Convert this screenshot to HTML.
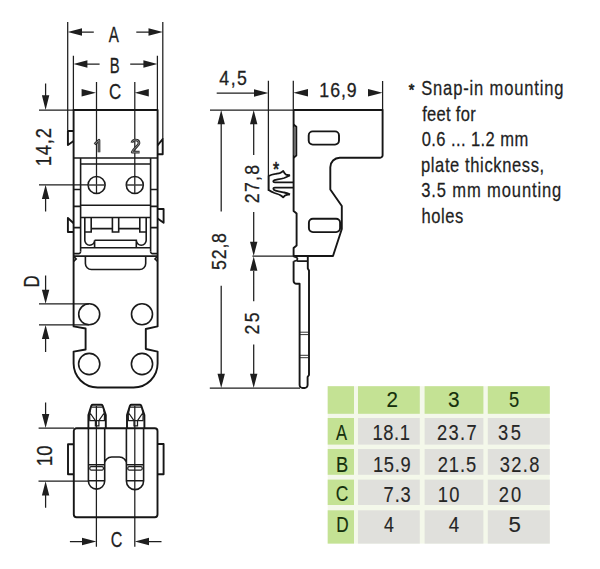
<!DOCTYPE html>
<html><head><meta charset="utf-8">
<style>
html,body{margin:0;padding:0;background:#fff;width:600px;height:569px;overflow:hidden}
svg{display:block}
text{font-family:"Liberation Sans",sans-serif}
.k{stroke:#161616;fill:none;stroke-width:1.9;stroke-linejoin:round}
.t{stroke:#1e1e1e;fill:none;stroke-width:1.25}
.m{stroke:#1a1a1a;fill:none;stroke-width:1.6}
.ah{fill:#1e1e1e;stroke:none}
</style></head>
<body>
<svg width="600" height="569" viewBox="0 0 600 569">
<!-- ============ LEFT TOP VIEW ============ -->
<g id="dimsTop">
  <!-- A -->
  <path class="t" d="M67.7 22V130.5M162.8 22V139M81 32H93.8M136.3 32H149"/>
  <path class="ah" d="M67.7 32L82 28.3V35.7ZM162.8 32L148.5 28.3V35.7Z"/>
  <!-- B -->
  <path class="t" d="M73.4 55.7V110M157.4 55.7V110M86.5 64H99.6M130.2 64H144"/>
  <path class="ah" d="M73.4 64L87.4 60.3V67.7ZM157.4 64L143.4 60.3V67.7Z"/>
  <!-- C -->
  <path class="t" d="M96.5 82V193.6M134.8 82V193.6"/>
  <path class="ah" d="M96 92.7L81.6 89V96.4ZM134.7 92.7L148.8 89V96.4Z"/>
  <!-- 14,2 -->
  <path class="t" d="M45.6 83.4V96M39 110.1H73.4M39 184.8H88M45.6 198V211.4"/>
  <path class="ah" d="M45.6 110L41.9 95.3H49.3ZM45.6 184.8L41.9 199H49.3Z"/>
  <!-- D -->
  <path class="t" d="M45.6 275.6V290M39 303.8H89M39 324.9H89M45.6 338V352"/>
  <path class="ah" d="M45.6 303.8L41.9 289.7H49.3ZM45.6 324.9L41.9 339H49.3Z"/>
</g>
<g id="textTop">
</g>
<g id="bodyTop">
  <!-- outer outline -->
  <path class="k" d="M73.6 110H157.6V326.4L145.8 329V349L157.6 351.6V363.5A24 24 0 0 1 133.6 387.5H97.6A24 24 0 0 1 73.6 363.5V351.6L85.6 349.5V328.5L73.6 326.4Z"/>
  <!-- clips -->
  <path class="k" d="M73.6 131H67.9V145L73.6 141"/>
  <path class="k" d="M157.6 145.3L162.7 139V154.3H157.6"/>
  <path class="k" d="M73.6 223.2L67.9 218V232H73.6"/>
  <path class="k" d="M157.6 209H163.6V222.8L157.6 218.5"/>
  <!-- inner -->
  <path class="m" d="M73.6 158H157.6M80.6 164H150.6M80.6 158V251.5M150.6 158V251.5"/>
  <path class="m" d="M73.6 189.5H80.6M73.6 206.4H80.6M73.6 227.6H80.6M150.6 189.5H157.6M150.6 206.4H157.6M150.6 227.6H157.6"/>
  <path class="m" d="M80.6 205.3H150.6M80.6 217.5H150.6M80.6 251.5A2 2 0 0 1 78.6 253.6H73.6M150.6 251.5A2 2 0 0 0 152.6 253.6H157.6M73.6 256.1H157.6M80.6 247.7H150.6"/>
  <!-- posts -->
  <path class="m" d="M91.2 217.5V232H84.8V240.3A4.9 4.9 0 0 0 94.6 240.3V247.7M94.6 240.3H136.3V247.7M136.3 240.3A4.9 4.9 0 0 0 146.2 240.3V232H139.8V217.5M91.2 228.6H112.4M118.7 228.6H139.8M112.4 217.5V232H118.7V217.5M84.8 217.5V232M146.2 217.5V232"/>
  <path class="m" d="M73.6 256.3L76.2 258.9L73.6 261.5M157.6 256.3L155 258.9L157.6 261.5"/>
  <!-- tab -->
  <path class="m" d="M85.4 256.1V263.5A6 6 0 0 0 91.4 269.5H139.7A6 6 0 0 0 145.7 263.5V256.1"/>
  <!-- circles -->
  <circle class="m" cx="96.6" cy="185" r="8.5"/>
  <circle class="m" cx="134.8" cy="185" r="8.5"/>
  <circle class="m" cx="89.2" cy="314.3" r="10.5"/>
  <circle class="m" cx="142" cy="314.3" r="10.5"/>
  <circle class="m" cx="89.2" cy="364" r="10.6"/>
  <circle class="m" cx="142" cy="364" r="10.6"/>
  <path style="stroke-width:1.5;stroke:#3a3a3a" class="t" d="M88 185H105M126.3 185H143.3"/>
</g>

<g id="pinnums">
  <path d="M94.6 144.2L99 140.2V152.3M131.9 142.8C132.3 140.6 134 140 135.5 140C137.5 140 139 141.2 139 143C139 145.5 133.5 148.5 132.2 152.2H139.6" fill="none" stroke="#2e2e2e" stroke-width="2.7" stroke-linejoin="round"/>
  <path d="M94.6 144.2L99 140.2V152.3M131.9 142.8C132.3 140.6 134 140 135.5 140C137.5 140 139 141.2 139 143C139 145.5 133.5 148.5 132.2 152.2H139.6" fill="none" stroke="#9a9a9a" stroke-width="0.8" stroke-linejoin="round"/>
</g>
<!-- ============ LEFT BOTTOM VIEW ============ -->
<g id="dimsBot">
  <path class="t" d="M45.6 402.4V415M38.6 428.2H74M38.5 481.2H88M45.6 494V507.7"/>
  <path class="ah" d="M45.6 428L41.9 414H49.3ZM45.6 481.2L41.9 495.4H49.3Z"/>
  <path class="t" d="M96.4 406V546.7M134.8 406V546.7M69.9 541.5H82M149 541.5H161.5"/>
  <path class="ah" d="M96.4 541.5L82 537.8V545.2ZM134.8 541.5L149 537.8V545.2Z"/>
</g>
<g id="bodyBot">
  <path class="k" d="M73.8 431A2.7 2.7 0 0 1 76.5 428.3H154.8A2.7 2.7 0 0 1 157.5 431V514.5A2.7 2.7 0 0 1 154.8 517.2H76.5A2.7 2.7 0 0 1 73.8 514.5Z"/>
  <path class="k" d="M73.8 444.2H68V474.3H73.8M157.5 444H163.6V474.3H157.5"/>
  <path class="k" d="M88.4 428.5V415L91.4 405.6Q91.8 404.8 92.8 404.8H101.2Q102.2 404.8 102.6 405.6L105.8 415V428.5"/><path class="t" d="M91.5 407.2H102.5M90.6 409C89.6 413 89.4 417 89.8 420.6H104.4C104.8 417 104.6 413 103.6 409M90.4 413.5L95.4 420.6M103.8 413.5L98.9 420.6M95.4 420.6V425.8H98.9V420.6"/>
  <path class="k" d="M127.0 428.5V415L130.0 405.6Q130.4 404.8 131.4 404.8H139.8Q140.8 404.8 141.2 405.6L144.4 415V428.5"/><path class="t" d="M130.1 407.2H141.1M129.2 409C128.2 413 128.0 417 128.4 420.6H143.0C143.4 417 143.2 413 142.2 409M129.0 413.5L134.0 420.6M142.4 413.5L137.5 420.6M134.0 420.6V425.8H137.5V420.6"/>
  <path class="m" d="M88.4 428.2V481A8.15 8.15 0 0 0 104.7 481V464A7 7 0 0 1 111.7 457H119.4A7 7 0 0 1 126.4 464V481A8.15 8.15 0 0 0 143.6 481V428.2M104.7 428.2V464M126.4 428.2V464M88.4 480.8H104.7M126.4 480.8H143.6"/>
  <path class="m" d="M88.4 464.8H104.7M126.4 464.8H143.6"/><rect class="t" x="89.8" y="466.7" width="13.6" height="3.3" rx="1.2"/><rect class="t" x="127.8" y="466.7" width="14.4" height="3.3" rx="1.2"/>
</g>

<!-- ============ SIDE VIEW ============ -->
<g id="dimsSide">
  <path class="t" d="M268.4 80.8V191M293.3 80.8V110M382.6 81V110M216.7 93H255"/>
  <path class="ah" d="M268.4 93L254 89.3V96.7ZM293.3 92.7L308 89V96.4ZM382.6 92.7L368 89V96.4Z"/>
  <path class="t" d="M210 110H293.3M221.2 124V211.5M221.2 285.8V374M253.7 124V155M253.7 212V242M252.4 256.2H293.3M253.7 271V301.2M253.7 344.4V374M209.8 388.2H300"/>
  <path class="ah" d="M221.2 110L217.5 124.3H224.9ZM253.7 110L250 124.3H257.4ZM253.7 256L250 241.8H257.4ZM253.7 256.4L250 270.7H257.4ZM221.2 388L217.5 373.7H224.9ZM253.7 388L250 373.7H257.4Z"/>
</g>
<g id="bodySide">
  <path class="k" d="M293.6 110H382.6V155A2.5 2.5 0 0 1 380.1 157.7H339.7A9.5 9.5 0 0 0 330.3 167.2V189.5L341.8 206V229L333 256H293.6V248L296.6 245.5V213.5L293.6 211V157.7V110"/>
  <path class="k" d="M293.6 124.6L296.3 126.7V155.6L293.6 157.7"/>
  <rect x="293.7" y="127.5" width="1.3" height="27.5" fill="#6a6a6a"/>
  <rect class="k" x="308.7" y="131.4" width="30.3" height="13.2" rx="4"/>
  <rect class="k" x="308.9" y="218.7" width="31.2" height="13.4" rx="4"/>
  <path class="k" d="M293.6 261.2V280.5A3 3 0 0 0 296.6 283.8H299.6V385A3 3 0 0 0 302.6 388H304.6A3 3 0 0 0 307.6 385V377L309 375V270.5L307.8 268.5V256.4"/>
  <path class="m" d="M293.6 256.8C296.5 257 298 258.2 297.4 259.4C297 260.6 295.4 261.1 293.6 261.2M297.2 261.1H307.8"/><path style="stroke-width:0.9" class="t" d="M300 332.2H308.5M300 334.6H308.5M300 355.3H308.5M300 357.7H308.5"/>
  <!-- snap foot -->
  <path style="stroke-width:1.8" class="k" d="M290 175.3C288.3 175.1 286.8 174.9 286.1 174.6C285.3 174.2 284.8 173.6 284.6 173.2L283.2 170.9C282.3 171.6 281.5 172.3 280.3 172.8C278.5 173.4 277 173.5 275.5 173.8C273 174.2 271 174.6 268.7 176V190C270.5 191.2 272.5 192.2 274.5 193C277 193.8 279.5 194.6 280.8 195.4C281.8 196 282.5 196.5 283.2 197.4L284.6 195.8C285.4 195.2 287 194.6 290 194.4"/>
  <path style="stroke-width:1.8" class="k" d="M290 175.3C288 176.5 286 177.4 284.2 178C280.5 179 277 179.5 274.5 180.1C272.8 180.7 272.8 182.4 274.8 182.4H293.6M293.6 187.7H274.8C272.8 187.7 272.8 189.8 275.5 190.6C278 191.4 281.5 192 284.2 192.5C286.5 193 288.5 193.5 290 194.4"/>
</g>

<!-- ============ NOTE TEXT ============ -->
<g id="note" font-size="19.5">
</g>

<!-- ============ TABLE ============ -->
<g id="table">
  <rect x="327.7" y="386.2" width="222" height="157.4" fill="#f4f8ea"/>
  <g fill="#c4e294">
    <rect x="327.7" y="386.2" width="26.3" height="27.6"/>
    <rect x="358" y="386.2" width="61.8" height="27.6"/>
    <rect x="424.6" y="386.2" width="58.8" height="27.6"/>
    <rect x="487.8" y="386.2" width="62" height="27.6"/>
    <rect x="327.7" y="418" width="26.3" height="26.6"/>
    <rect x="327.7" y="449" width="26.3" height="25.8"/>
    <rect x="327.7" y="479.6" width="26.3" height="25.4"/>
    <rect x="327.7" y="510.3" width="26.3" height="33.3"/>
  </g>
  <g fill="#e0e0dc">
    <rect x="358" y="418" width="61.8" height="26.6"/>
    <rect x="424.6" y="418" width="58.8" height="26.6"/>
    <rect x="487.8" y="418" width="62" height="26.6"/>
    <rect x="358" y="449" width="61.8" height="25.8"/>
    <rect x="424.6" y="449" width="58.8" height="25.8"/>
    <rect x="487.8" y="449" width="62" height="25.8"/>
    <rect x="358" y="479.6" width="61.8" height="25.4"/>
    <rect x="424.6" y="479.6" width="58.8" height="25.4"/>
    <rect x="487.8" y="479.6" width="62" height="25.4"/>
    <rect x="358" y="510.3" width="61.8" height="33.3"/>
    <rect x="424.6" y="510.3" width="58.8" height="33.3"/>
    <rect x="487.8" y="510.3" width="62" height="33.3"/>
  </g>
  <g font-size="20" fill="#10280a">
  </g>
  <g font-size="20" fill="#222">
  </g>
</g>

<g id="texts">
<text id="tA" transform="translate(108.75 41.60) scale(0.706 1)" font-size="21.50" letter-spacing="0.00" fill="#1e1e1e" stroke="#1e1e1e" stroke-width="0.3" >A</text>
<text id="tB" transform="translate(109.75 73.30) scale(0.691 1)" font-size="21.50" letter-spacing="0.00" fill="#1e1e1e" stroke="#1e1e1e" stroke-width="0.3" >B</text>
<text id="tC" transform="translate(108.95 98.80) scale(0.785 1)" font-size="21.50" letter-spacing="0.00" fill="#1e1e1e" stroke="#1e1e1e" stroke-width="0.3" >C</text>
<text id="t142" transform="translate(51.05 166.15) rotate(-90) scale(0.860 1)" font-size="21.30" letter-spacing="0.93" fill="#1e1e1e" stroke="#1e1e1e" stroke-width="0.3" >14,2</text>
<text id="tD" transform="translate(39.00 287.38) rotate(-90) scale(0.785 1)" font-size="21.50" letter-spacing="0.00" fill="#1e1e1e" stroke="#1e1e1e" stroke-width="0.3" >D</text>
<text id="t10" transform="translate(51.60 466.30) rotate(-90) scale(0.860 1)" font-size="21.50" letter-spacing="0.23" fill="#1e1e1e" stroke="#1e1e1e" stroke-width="0.3" >10</text>
<text id="tCb" transform="translate(110.80 546.95) scale(0.748 1)" font-size="21.50" letter-spacing="0.00" fill="#1e1e1e" stroke="#1e1e1e" stroke-width="0.3" >C</text>
<text id="t45" transform="translate(219.30 84.95) scale(0.860 1)" font-size="20.60" letter-spacing="1.74" fill="#1e1e1e" stroke="#1e1e1e" stroke-width="0.3" >4,5</text>
<text id="t169" transform="translate(319.35 97.25) scale(0.860 1)" font-size="20.60" letter-spacing="1.09" fill="#1e1e1e" stroke="#1e1e1e" stroke-width="0.3" >16,9</text>
<text id="t278" transform="translate(258.55 203.25) rotate(-90) scale(0.860 1)" font-size="20.60" letter-spacing="1.55" fill="#1e1e1e" stroke="#1e1e1e" stroke-width="0.3" >27,8</text>
<text id="t528" transform="translate(225.95 269.90) rotate(-90) scale(0.860 1)" font-size="20.60" letter-spacing="0.93" fill="#1e1e1e" stroke="#1e1e1e" stroke-width="0.3" >52,8</text>
<text id="t25" transform="translate(258.75 334.60) rotate(-90) scale(0.860 1)" font-size="20.60" letter-spacing="2.79" fill="#1e1e1e" stroke="#1e1e1e" stroke-width="0.3" >25</text>
<text id="tast" transform="translate(272.90 176.00) scale(0.783 1)" font-size="20.00" letter-spacing="0.00" fill="#1e1e1e" stroke="#1e1e1e" stroke-width="0.7" >*</text>
<text id="n0" transform="translate(408.70 96.20) scale(0.843 1)" font-size="17.14" letter-spacing="0.00" fill="#1e1e1e" stroke="#1e1e1e" stroke-width="0.7" >*</text>
<text id="n1" transform="translate(421.20 95.00) scale(0.820 1)" font-size="20.20" letter-spacing="1.01" fill="#1e1e1e" stroke="#1e1e1e" stroke-width="0.25" >Snap-in mounting</text>
<text id="n2" transform="translate(422.20 120.50) scale(0.820 1)" font-size="20.20" letter-spacing="0.35" fill="#1e1e1e" stroke="#1e1e1e" stroke-width="0.25" >feet for</text>
<text id="n3" transform="translate(421.75 146.00) scale(0.820 1)" font-size="20.20" letter-spacing="0.49" fill="#1e1e1e" stroke="#1e1e1e" stroke-width="0.25" >0.6 ... 1.2 mm</text>
<text id="n4" transform="translate(421.00 171.50) scale(0.820 1)" font-size="20.20" letter-spacing="0.73" fill="#1e1e1e" stroke="#1e1e1e" stroke-width="0.25" >plate thickness,</text>
<text id="n5" transform="translate(421.25 197.00) scale(0.820 1)" font-size="20.20" letter-spacing="1.05" fill="#1e1e1e" stroke="#1e1e1e" stroke-width="0.25" >3.5 mm mounting</text>
<text id="n6" transform="translate(421.50 222.50) scale(0.820 1)" font-size="20.20" letter-spacing="0.67" fill="#1e1e1e" stroke="#1e1e1e" stroke-width="0.25" >holes</text>
<text id="h2" transform="translate(386.50 406.75) scale(0.943 1)" font-size="21.80" letter-spacing="0.00" fill="#15300c" stroke="#15300c" stroke-width="0.15" >2</text>
<text id="h3" transform="translate(448.00 406.50) scale(0.955 1)" font-size="21.80" letter-spacing="0.00" fill="#15300c" stroke="#15300c" stroke-width="0.15" >3</text>
<text id="h5" transform="translate(509.00 406.75) scale(0.840 1)" font-size="21.80" letter-spacing="0.00" fill="#15300c" stroke="#15300c" stroke-width="0.15" >5</text>
<text id="rA" transform="translate(336.05 440.30) scale(0.758 1)" font-size="21.80" letter-spacing="0.00" fill="#15300c" stroke="#15300c" stroke-width="0.15" >A</text>
<text id="rB" transform="translate(336.00 471.80) scale(0.840 1)" font-size="21.80" letter-spacing="0.00" fill="#15300c" stroke="#15300c" stroke-width="0.15" >B</text>
<text id="rC" transform="translate(335.85 501.05) scale(0.798 1)" font-size="21.80" letter-spacing="0.00" fill="#15300c" stroke="#15300c" stroke-width="0.15" >C</text>
<text id="rD" transform="translate(336.15 531.60) scale(0.789 1)" font-size="21.80" letter-spacing="0.00" fill="#15300c" stroke="#15300c" stroke-width="0.15" >D</text>
<text id="v11" transform="translate(372.60 439.75) scale(0.840 1)" font-size="21.80" letter-spacing="0.63" fill="#262626" stroke="#262626" stroke-width="0.15" >18.1</text>
<text id="v12" transform="translate(436.95 439.75) scale(0.840 1)" font-size="21.80" letter-spacing="1.67" fill="#262626" stroke="#262626" stroke-width="0.15" >23.7</text>
<text id="v13" transform="translate(497.90 439.75) scale(0.840 1)" font-size="21.80" letter-spacing="3.10" fill="#262626" stroke="#262626" stroke-width="0.15" >35</text>
<text id="v21" transform="translate(373.00 472.05) scale(0.840 1)" font-size="21.80" letter-spacing="0.79" fill="#262626" stroke="#262626" stroke-width="0.15" >15.9</text>
<text id="v22" transform="translate(437.65 472.05) scale(0.840 1)" font-size="21.80" letter-spacing="1.11" fill="#262626" stroke="#262626" stroke-width="0.15" >21.5</text>
<text id="v23" transform="translate(499.75 472.05) scale(0.840 1)" font-size="21.80" letter-spacing="1.59" fill="#262626" stroke="#262626" stroke-width="0.15" >32.8</text>
<text id="v31" transform="translate(383.55 501.75) scale(0.840 1)" font-size="21.80" letter-spacing="1.07" fill="#262626" stroke="#262626" stroke-width="0.15" >7.3</text>
<text id="v32" transform="translate(437.65 501.75) scale(0.840 1)" font-size="21.80" letter-spacing="1.67" fill="#262626" stroke="#262626" stroke-width="0.15" >10</text>
<text id="v33" transform="translate(498.65 501.75) scale(0.840 1)" font-size="21.80" letter-spacing="2.62" fill="#262626" stroke="#262626" stroke-width="0.15" >20</text>
<text id="v41" transform="translate(384.05 531.75) scale(0.815 1)" font-size="21.80" letter-spacing="0.00" fill="#262626" stroke="#262626" stroke-width="0.15" >4</text>
<text id="v42" transform="translate(448.70 531.75) scale(0.861 1)" font-size="21.80" letter-spacing="0.00" fill="#262626" stroke="#262626" stroke-width="0.15" >4</text>
<text id="v43" transform="translate(508.45 531.75) scale(1.019 1)" font-size="21.80" letter-spacing="0.00" fill="#262626" stroke="#262626" stroke-width="0.15" >5</text>
</g>
</svg>
</body></html>
